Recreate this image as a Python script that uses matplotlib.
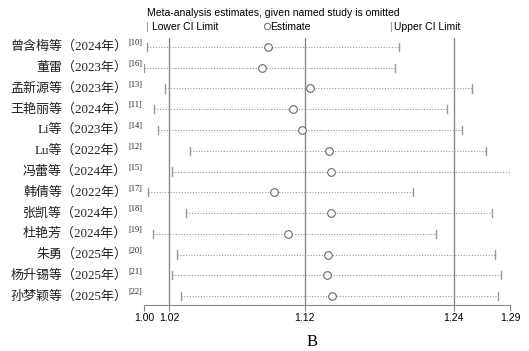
import matplotlib.pyplot as plt

# studies (top to bottom) with reference numbers
studies = ['曾含梅等（2024年）', '董雷（2023年）', '孟新源等（2023年）', '王艳丽等（2024年）',
           'Li等（2023年）', 'Lu等（2022年）', '冯蕾等（2024年）', '韩倩等（2022年）',
           '张凯等（2024年）', '杜艳芳（2024年）', '朱勇（2025年）', '杨升锡等（2025年）',
           '孙梦颖等（2025年）']
refs = ['[10]', '[16]', '[13]', '[11]', '[14]', '[12]', '[15]', '[17]', '[18]', '[19]',
        '[20]', '[21]', '[22]']
estimate = [1.092, 1.088, 1.124, 1.111, 1.118, 1.139, 1.140, 1.097, 1.140, 1.107,
            1.138, 1.137, 1.141]
lower = [1.0054, 1.0036, 1.0178, 1.0103, 1.0131, 1.0355, 1.0230, 1.0059, 1.0323, 1.0098,
         1.0265, 1.0228, 1.0293]
upper = [1.1945, 1.1912, 1.2553, 1.2343, 1.2470, 1.2676, 1.2886, 1.2060, 1.2729, 1.2251,
         1.2755, 1.2807, 1.2784]
# overall estimate and its CI
overall = [1.0207, 1.12, 1.240]

fig = plt.figure(figsize=(5.29, 3.51), dpi=100)
ax = fig.add_axes([0.2728, 0.131, 0.6913, 0.7607])

n = len(studies)
ys = list(range(1, n + 1))
lmin, umax = min(lower), max(upper)

# reference lines for the overall result
for v in overall:
    ax.axvline(v, color='#8a8a8a', lw=1.0, zorder=1)

for y, lo, est, up in zip(ys, lower, estimate, upper):
    ax.plot([lo, up], [y, y], color='#9a9a9a', lw=0.8, ls=(0, (1, 1.5)), zorder=2)
    ax.plot([lo, lo], [y - 0.2, y + 0.2], color='#9a9a9a', lw=1.0, zorder=3)
    ax.plot([up, up], [y - 0.2, y + 0.2], color='#9a9a9a', lw=1.0, zorder=3)
    ax.plot(est, y, 'o', mfc='white', mec='#6a6a6a', mew=0.8, ms=5.5, zorder=4)

ax.set_xscale('log')
ax.set_xlim(lmin, umax)
ax.set_ylim(n + 0.43, 0.57)

ticks = [lmin] + overall + [umax]
ax.set_xticks(ticks)
ax.set_xticklabels(['%.2f' % t for t in ticks])
ax.minorticks_off()
ax.set_yticks([])
ax.tick_params(axis='x', direction='out', length=4, width=0.8, color='#8a8a8a',
               labelsize=7.5, pad=2)
for lab in ax.get_xticklabels():
    lab.set_family('Liberation Sans')
for s in ['top', 'right', 'left']:
    ax.spines[s].set_visible(False)
ax.spines['bottom'].set_color('#8a8a8a')
ax.spines['bottom'].set_linewidth(0.8)

# study labels with superscript reference numbers
tr = ax.get_yaxis_transform()
for y, name, ref in zip(ys, studies, refs):
    ax.text(-0.047, y, name, transform=tr, ha='right', va='center', fontsize=9.4,
            family=['Liberation Serif', 'Noto Sans CJK SC'], color='#222222')
    ax.text(-0.043, y - 0.18, ref, transform=tr, ha='left', va='center', fontsize=6,
            family='Liberation Serif', color='#222222')

# title and legend
fig.text(0.278, 0.963, 'Meta-analysis estimates, given named study is omitted',
         fontsize=7.5, family='Liberation Sans', va='center')
fig.text(0.275, 0.923, '|', fontsize=7.5, family='Liberation Sans', va='center', color='#8a8a8a')
fig.text(0.287, 0.923, 'Lower CI Limit', fontsize=7.5, family='Liberation Sans', va='center')
fig.add_artist(plt.Line2D([0.5045], [0.925], marker='o', mfc='white', mec='#6a6a6a',
                          mew=0.7, ms=4.5, transform=fig.transFigure))
fig.text(0.511, 0.923, 'Estimate', fontsize=7.5, family='Liberation Sans', va='center')
fig.text(0.736, 0.923, '|', fontsize=7.5, family='Liberation Sans', va='center', color='#8a8a8a')
fig.text(0.744, 0.923, 'Upper CI Limit', fontsize=7.5, family='Liberation Sans', va='center')

fig.text(0.589, 0.027, 'B', fontsize=12, family='Liberation Serif', ha='center', va='center')

fig.savefig('out.png', dpi=100)
